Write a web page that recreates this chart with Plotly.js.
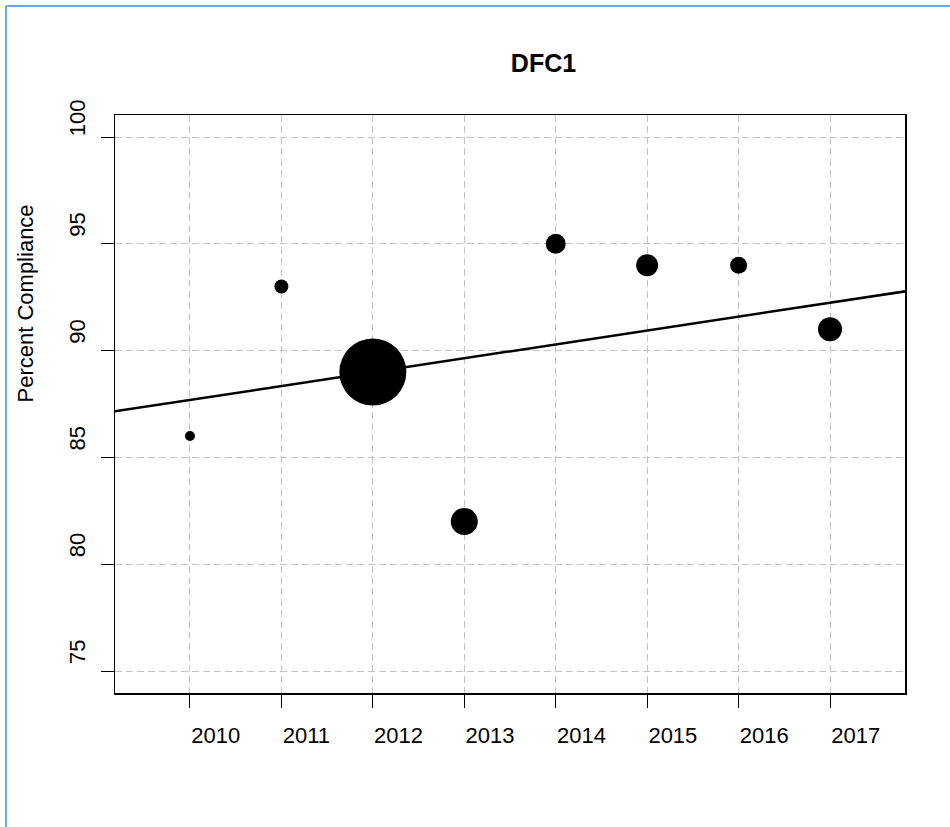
<!DOCTYPE html>
<html>
<head>
<meta charset="utf-8">
<script src="https://cdn.plot.ly/plotly-3.0.1.min.js"></script>
<style>
  html, body { margin: 0; padding: 0; background: #ffffff; }
  #chart { width: 950px; height: 827px; }
</style>
</head>
<body>
<div id="chart"></div>
<script>
// ---- data ----
const years = [2010, 2011, 2012, 2013, 2014, 2015, 2016, 2017];
const compliance = [86, 93, 89, 82, 95, 94, 94, 91];
// relative weight of each year (drawn as bubble diameter)
const weight = [10, 14, 67, 27, 20, 22, 17, 24];
// fitted trend line (value at 2010 and slope per year)
const fitAt2010 = 87.69;
const fitSlope = 0.65;
const yTicks = [75, 80, 85, 90, 95, 100];
const xTicks = years;
const chartTitle = "DFC1";
const yTitle = "Percent Compliance";

const xRange = [2009.18, 2017.82];
const yRange = [73.97, 101.03];

const fitX = [xRange[0] - 1, xRange[1] + 1];
const fitY = fitX.map(x => fitAt2010 + fitSlope * (x - 2010));

const W = 950, H = 827;
const M = {l: 115, r: 45, t: 115, b: 134};
const pw = W - M.l - M.r, ph = H - M.t - M.b;
const px2x = p => (p - M.l) / pw;
const px2y = p => 1 - (p - M.t) / ph;

const font = "Liberation Sans, Arial, Helvetica, sans-serif";

const traces = [
  {
    x: fitX, y: fitY, type: "scatter", mode: "lines",
    line: {color: "#000000", width: 2.5},
    hoverinfo: "skip", showlegend: false
  },
  {
    x: years, y: compliance, type: "scatter", mode: "markers",
    marker: {size: weight, sizemode: "diameter", color: "#000000", opacity: 1, line: {width: 0}},
    showlegend: false, cliponaxis: false
  }
];

const axisCommon = {
  showline: true, mirror: true, linecolor: "#000000", linewidth: 1.5,
  ticks: "outside", ticklen: 13, tickwidth: 1, tickcolor: "#000000",
  showgrid: true, gridcolor: "#c4c4c4", gridwidth: 1, griddash: "7px,4px",
  zeroline: false, tickfont: {family: font, size: 22, color: "#000000"}
};

const layout = {
  width: W, height: H,
  margin: M,
  paper_bgcolor: "#ffffff", plot_bgcolor: "#ffffff",
  showlegend: false,
  title: {
    text: "<b>" + chartTitle + "</b>",
    font: {family: font, size: 25, color: "#000000"},
    x: px2x(543.5), xref: "paper", xanchor: "center",
    y: 1 - 63 / H, yanchor: "middle"
  },
  xaxis: Object.assign({}, axisCommon, {
    range: xRange, tickmode: "array", tickvals: xTicks,
    ticktext: xTicks.map(String),
    ticklabelposition: "outside right",
    ticklabelstandoff: 22
  }),
  yaxis: Object.assign({}, axisCommon, {
    range: yRange, tickmode: "array", tickvals: yTicks,
    ticktext: yTicks.map(String),
    tickangle: -90,
    ticklabelposition: "outside top",
    ticklabelstandoff: 20
  }),
  annotations: [
    {text: yTitle, textangle: -90, xref: "paper", yref: "paper",
     x: px2x(25), y: px2y(303.5), xanchor: "center", yanchor: "middle",
     showarrow: false, font: {family: font, size: 22, color: "#000000"}}
  ],
  shapes: [
    {type: "line", xref: "paper", yref: "paper",
     x0: px2x(6), x1: px2x(6), y0: px2y(6), y1: px2y(H + 10),
     line: {color: "#6ea6e6", width: 2}},
    {type: "line", xref: "paper", yref: "paper",
     x0: px2x(6), x1: px2x(W + 10), y0: px2y(6), y1: px2y(6),
     line: {color: "#6ea6e6", width: 2}}
  ]
};

Plotly.newPlot("chart", traces, layout, {displayModeBar: false, staticPlot: true});
</script>
</body>
</html>
